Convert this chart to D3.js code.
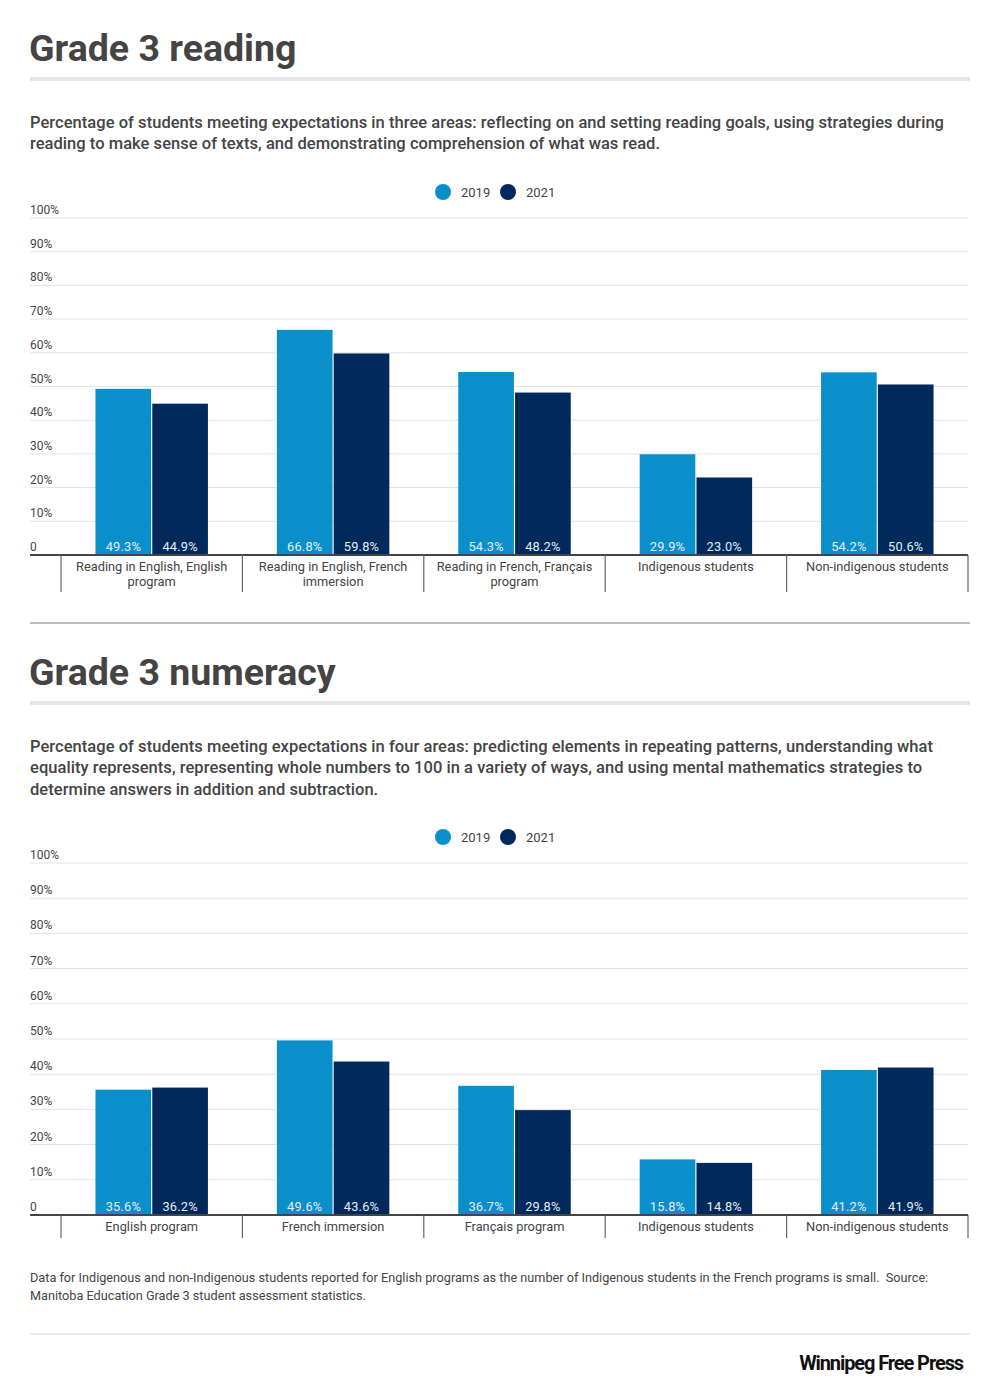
<!DOCTYPE html>
<html>
<head>
<meta charset="utf-8">
<script src="https://cdn.jsdelivr.net/npm/d3@7"></script>
<style>
  body { margin: 0; background: #fff; }
  svg text { font-family: Roboto, "Noto Sans", sans-serif; white-space: pre; }
</style>
</head>
<body>
<div id="chart"></div>
<script>
// data
var series = ["2019", "2021"];
var yTicks = [0, 10, 20, 30, 40, 50, 60, 70, 80, 90, 100];

var readingCategories = [
  "Reading in English, English program",
  "Reading in English, French immersion",
  "Reading in French, Français program",
  "Indigenous students",
  "Non-indigenous students"
];
var reading2019 = [49.3, 66.8, 54.3, 29.9, 54.2];
var reading2021 = [44.9, 59.8, 48.2, 23.0, 50.6];

var numeracyCategories = [
  "English program",
  "French immersion",
  "Français program",
  "Indigenous students",
  "Non-indigenous students"
];
var numeracy2019 = [35.6, 49.6, 36.7, 15.8, 41.2];
var numeracy2021 = [36.2, 43.6, 29.8, 14.8, 41.9];

var readingTitle = "Grade 3 reading";
var readingSub = [
  "Percentage of students meeting expectations in three areas: reflecting on and setting reading goals, using strategies during",
  "reading to make sense of texts, and demonstrating comprehension of what was read."
];
var numeracyTitle = "Grade 3 numeracy";
var numeracySub = [
  "Percentage of students meeting expectations in four areas: predicting elements in repeating patterns, understanding what",
  "equality represents, representing whole numbers to 100 in a variety of ways, and using mental mathematics strategies to",
  "determine answers in addition and subtraction."
];
var footnote = [
  "Data for Indigenous and non-Indigenous students reported for English programs as the number of Indigenous students in the French programs is small.  Source:",
  "Manitoba Education Grade 3 student assessment statistics."
];

var colors = {"2019": "#0a8fca", "2021": "#012a5c"};
var textColor = "#444";

var svg = d3.select("#chart").append("svg")
  .attr("width", 1000)
  .attr("height", 1396);

// header: title, rule, subtitle lines
function drawHeader(top, title, sub) {
  svg.append("text")
    .attr("x", 29).attr("y", top)
    .attr("font-size", 37.5).attr("font-weight", 700)
    .attr("fill", textColor)
    .text(title);
  svg.append("rect")
    .attr("x", 30).attr("y", top + 16)
    .attr("width", 940).attr("height", 4)
    .attr("fill", "#e6e6e6");
  sub.forEach(function(line, i) {
    svg.append("text")
      .attr("x", 30).attr("y", top + 67 + i * 21.3)
      .attr("font-size", 16.5).attr("font-weight", 500)
      .attr("letter-spacing", 0.04)
      .attr("fill", textColor)
      .text(line);
  });
}

function wrapLabel(textSel, label, maxW) {
  var words = label.split(" "), line = [], lines = [];
  var tmp = textSel.append("tspan");
  words.forEach(function(w) {
    line.push(w);
    tmp.text(line.join(" "));
    if (tmp.node().getComputedTextLength() > maxW && line.length > 1) {
      line.pop();
      lines.push(line.join(" "));
      line = [w];
    }
  });
  lines.push(line.join(" "));
  tmp.remove();
  lines.forEach(function(l, i) {
    textSel.append("tspan")
      .attr("x", 0).attr("dy", i === 0 ? 0 : 15)
      .text(l);
  });
}

function drawChart(legendY, top, bottom, cats, v2019, v2021) {
  var data = cats.map(function(c, i) {
    return {cat: c, "2019": v2019[i], "2021": v2021[i]};
  });

  var y = d3.scaleLinear().domain([0, 100]).range([bottom, top]);
  var x0 = d3.scaleBand().domain(cats).range([61, 968]).padding(0);
  var bw = x0.bandwidth();
  var x1 = d3.scaleBand().domain(series)
    .range([bw * 0.19, bw * 0.81]).paddingInner(0.02);

  // legend
  var lg = svg.append("g").attr("transform", "translate(443," + legendY + ")");
  [[0, "2019"], [65, "2021"]].forEach(function(d) {
    lg.append("circle").attr("cx", d[0]).attr("cy", 0).attr("r", 8)
      .attr("fill", colors[d[1]]);
    lg.append("text").attr("x", d[0] + 18).attr("y", 4.5)
      .attr("font-size", 13).attr("fill", textColor).text(d[1]);
  });

  // gridlines + tick labels
  yTicks.forEach(function(t) {
    if (t > 0) {
      svg.append("line")
        .attr("x1", 30).attr("x2", 968)
        .attr("y1", y(t)).attr("y2", y(t))
        .attr("stroke", "#e2e2e2").attr("stroke-width", 1);
    }
    svg.append("text")
      .attr("x", 30).attr("y", y(t) - 4)
      .attr("font-size", 12).attr("fill", textColor)
      .text(t === 0 ? "0" : t + "%");
  });

  // bars
  var groups = svg.selectAll(null).data(data).enter().append("g")
    .attr("transform", function(d) { return "translate(" + x0(d.cat) + ",0)"; });

  groups.selectAll("rect")
    .data(function(d) { return series.map(function(s) { return {s: s, v: d[s]}; }); })
    .enter().append("rect")
    .attr("x", function(d) { return x1(d.s); })
    .attr("y", function(d) { return y(d.v); })
    .attr("width", x1.bandwidth())
    .attr("height", function(d) { return y(0) - y(d.v); })
    .attr("fill", function(d) { return colors[d.s]; });

  groups.selectAll("text.val")
    .data(function(d) { return series.map(function(s) { return {s: s, v: d[s]}; }); })
    .enter().append("text")
    .attr("class", "val")
    .attr("x", function(d) { return x1(d.s) + x1.bandwidth() / 2; })
    .attr("y", y(0) - 4)
    .attr("text-anchor", "middle")
    .attr("font-size", 12.8)
    .attr("letter-spacing", 0.2)
    .attr("fill", "#e4eef6")
    .text(function(d) { return d.v.toFixed(1) + "%"; });

  // baseline
  svg.append("line")
    .attr("x1", 30).attr("x2", 968)
    .attr("y1", y(0)).attr("y2", y(0))
    .attr("stroke", "#444").attr("stroke-width", 2);

  // category separators
  var edges = cats.map(function(c) { return x0(c); }).concat([x0.range()[1]]);
  var tickLen = cats.some(function(c) { return c.length > 27; }) ? 37 : 23;
  edges.forEach(function(e) {
    svg.append("line")
      .attr("x1", e).attr("x2", e)
      .attr("y1", y(0)).attr("y2", y(0) + tickLen)
      .attr("stroke", "#666").attr("stroke-width", 1.2);
  });

  // category labels
  data.forEach(function(d) {
    var t = svg.append("text")
      .attr("transform", "translate(" + (x0(d.cat) + bw / 2) + "," + (y(0) + 15.5) + ")")
      .attr("text-anchor", "middle")
      .attr("font-size", 12.8).attr("fill", textColor);
    wrapLabel(t, d.cat, 165);
  });
}

drawHeader(61, readingTitle, readingSub);
drawChart(192, 218, 555, readingCategories, reading2019, reading2021);

svg.append("rect")
  .attr("x", 30).attr("y", 622)
  .attr("width", 940).attr("height", 2)
  .attr("fill", "#bbb");

drawHeader(685, numeracyTitle, numeracySub);
drawChart(837, 863, 1215, numeracyCategories, numeracy2019, numeracy2021);

footnote.forEach(function(line, i) {
  svg.append("text")
    .attr("x", 30).attr("y", 1281.5 + i * 18.5)
    .attr("font-size", 12.7).attr("fill", textColor)
    .text(line);
});

svg.append("rect")
  .attr("x", 30).attr("y", 1333)
  .attr("width", 940).attr("height", 2)
  .attr("fill", "#ececec");

svg.append("text")
  .attr("x", 963).attr("y", 1370)
  .attr("text-anchor", "end")
  .attr("font-family", "'Liberation Sans Narrow', 'DejaVu Sans Condensed', sans-serif")
  .attr("font-size", 20).attr("font-weight", 700)
  .attr("letter-spacing", -1.1)
  .attr("fill", "#111")
  .text("Winnipeg Free Press");
</script>
</body>
</html>
